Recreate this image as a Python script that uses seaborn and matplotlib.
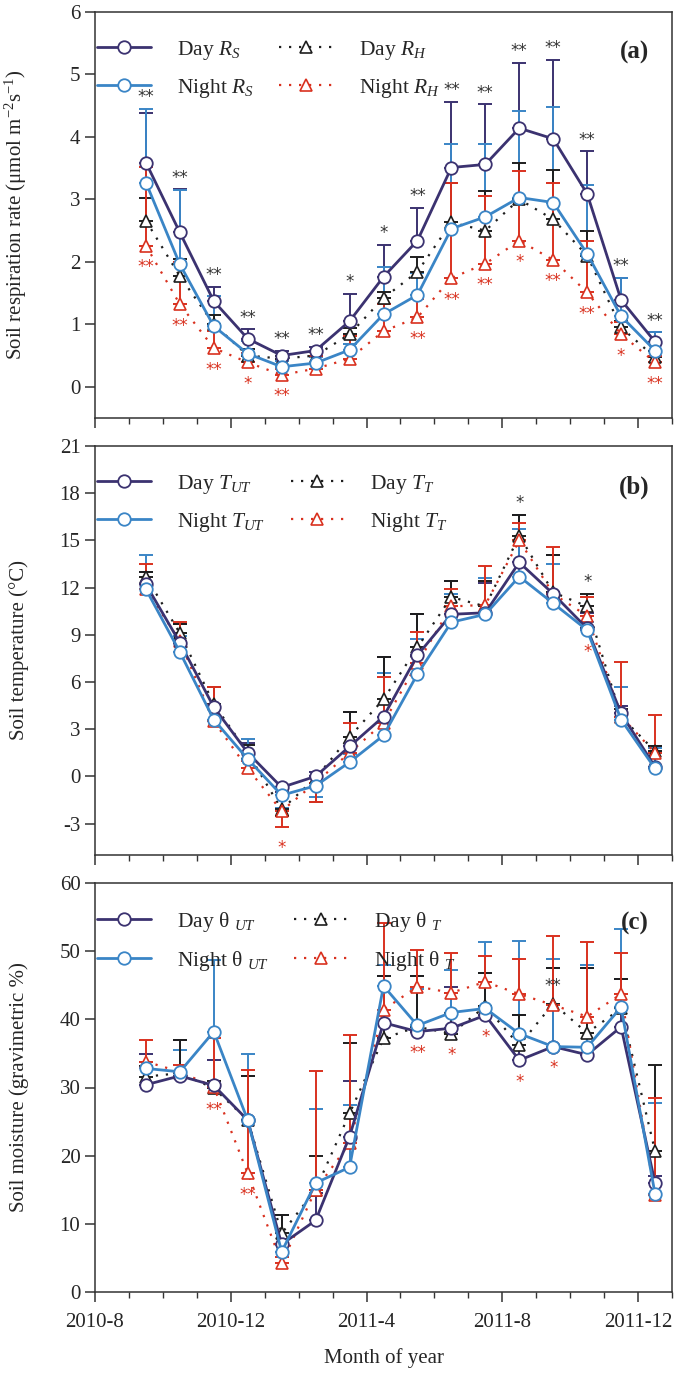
import numpy as np
import pandas as pd
import matplotlib
matplotlib.use("Agg")
import matplotlib.pyplot as plt
from matplotlib.ticker import MultipleLocator, FixedLocator
import seaborn as sns

# ---------------- data ----------------
months = ["2010-09", "2010-10", "2010-11", "2010-12", "2011-01", "2011-02", "2011-03", "2011-04",
          "2011-05", "2011-06", "2011-07", "2011-08", "2011-09", "2011-10", "2011-11", "2011-12"]
xtick_labels = ["2010-8", "2010-12", "2011-4", "2011-8", "2011-12"]

# (a) soil respiration rate
day_rs = [3.59, 2.47, 1.37, 0.77, 0.50, 0.58, 1.05, 1.76, 2.34, 3.51, 3.56, 4.14, 3.97, 3.09, 1.39, 0.72]
day_rs_err = [0.80, 0.69, 0.23, 0.15, 0.07, 0.06, 0.44, 0.51, 0.52, 1.05, 0.96, 1.05, 1.26, 0.68, 0.35, 0.15]
night_rs = [3.27, 1.96, 0.97, 0.53, 0.32, 0.38, 0.59, 1.16, 1.47, 2.53, 2.72, 3.03, 2.95, 2.13, 1.13, 0.58]
night_rs_err = [1.18, 1.19, 0.49, 0.20, 0.10, 0.10, 0.10, 0.76, 0.35, 1.36, 1.17, 1.39, 1.53, 1.10, 0.61, 0.29]
day_rh = [2.66, 1.77, 1.00, 0.50, 0.45, 0.50, 0.84, 1.42, 1.84, 2.63, 2.50, 3.00, 2.68, 2.10, 0.95, 0.47]
day_rh_err = [0.37, 0.28, 0.15, 0.10, 0.05, 0.05, 0.10, 0.10, 0.24, 0.64, 0.64, 0.59, 0.79, 0.40, 0.10, 0.10]
night_rh = [2.26, 1.32, 0.62, 0.39, 0.19, 0.29, 0.45, 0.89, 1.11, 1.74, 1.97, 2.34, 2.03, 1.51, 0.84, 0.39]
night_rh_err = [1.26, 0.68, 0.27, 0.15, 0.10, 0.21, 0.37, 0.43, 0.30, 1.52, 1.09, 1.11, 1.23, 0.83, 0.20, 0.10]
sig_a_black = ["**", "**", "**", "**", "**", "**", "*", "*", "**", "**", "**", "**", "**", "**", "**", "**"]
sig_a_red = ["**", "**", "**", "*", "**", "", "", "", "**", "**", "**", "*", "**", "**", "*", "**"]

# (b) soil temperature
day_tut = [12.2, 8.5, 4.4, 1.5, -0.7, 0.0, 1.9, 3.8, 7.7, 10.3, 10.4, 13.6, 11.6, 9.4, 4.0, 0.6]
day_tut_err = [0.8, 1.2, 1.3, 0.6, 0.3, 0.3, 2.2, 3.8, 2.6, 2.1, 1.9, 3.0, 2.5, 1.0, 0.5, 1.3]
night_tut = [11.9, 7.9, 3.6, 1.1, -1.2, -0.6, 0.9, 2.6, 6.5, 9.8, 10.3, 12.7, 11.0, 9.3, 3.6, 0.5]
night_tut_err = [2.2, 1.0, 1.0, 1.3, 0.8, 0.7, 0.5, 4.0, 2.2, 1.8, 2.3, 3.0, 2.5, 0.5, 2.1, 1.3]
day_tt = [12.7, 9.1, 4.6, 1.5, -2.1, -0.1, 2.5, 4.9, 8.2, 11.4, 10.8, 15.3, 11.7, 10.8, 3.8, 1.6]
day_tt_err = [0.3, 0.6, 1.1, 0.5, 0.4, 1.5, 1.6, 2.7, 2.1, 1.0, 1.6, 1.3, 2.4, 0.8, 0.5, 0.3]
night_tt = [11.9, 8.6, 3.5, 0.5, -2.2, -0.4, 1.5, 3.4, 7.2, 10.8, 10.9, 15.0, 11.6, 10.2, 3.8, 1.5]
night_tt_err = [1.6, 1.2, 2.2, 0.5, 1.0, 1.2, 1.9, 2.9, 2.0, 1.1, 2.5, 1.1, 3.0, 1.2, 3.5, 2.4]
sig_b_black = ["", "", "", "", "", "", "", "", "", "", "", "*", "", "*", "", ""]
sig_b_red = ["", "", "", "", "*", "", "", "", "", "", "", "", "", "*", "", ""]

# (c) soil moisture
day_mut = [30.4, 31.7, 30.3, 25.2, 7.0, 10.5, 22.8, 39.5, 38.2, 38.7, 40.6, 34.0, 36.0, 34.8, 38.9, 16.0]
day_mut_err = [4.5, 5.3, 3.8, 6.5, 4.3, 4.0, 8.1, 6.8, 8.1, 6.0, 6.2, 6.6, 11.5, 12.7, 7.0, 1.0]
night_mut = [32.8, 32.3, 38.2, 25.2, 5.9, 16.0, 18.3, 44.9, 39.1, 41.0, 41.6, 37.9, 36.0, 35.9, 41.8, 14.4]
night_mut_err = [1.0, 3.2, 10.5, 9.7, 1.0, 10.8, 9.1, 3.1, 5.4, 6.2, 9.8, 13.6, 12.9, 12.1, 11.5, 13.3]
day_mt = [31.6, 32.1, 29.9, 25.2, 8.6, 15.0, 26.2, 37.2, 38.9, 37.9, 41.9, 36.2, 42.3, 38.0, 41.6, 20.7]
day_mt_err = [1.5, 4.9, 1.0, 6.5, 2.7, 5.0, 10.4, 9.1, 7.4, 3.0, 4.9, 4.4, 5.2, 9.5, 4.3, 12.6]
night_mt = [33.8, 32.3, 30.1, 17.4, 4.2, 15.0, 21.8, 41.4, 44.8, 43.9, 45.5, 43.7, 42.1, 40.4, 43.7, 14.2]
night_mt_err = [3.2, 1.0, 7.1, 15.1, 1.0, 17.4, 15.9, 12.7, 5.4, 5.9, 3.8, 5.1, 10.1, 11.0, 6.1, 14.2]
sig_c_black = ["", "", "", "", "", "", "", "", "", "", "", "", "**", "", "", ""]
sig_c_red = ["", "", "**", "**", "", "", "", "", "**", "*", "*", "*", "*", "", "", ""]

# ---------------- style ----------------
sns.set_theme(style="ticks")
plt.rcParams["font.family"] = ["Liberation Serif", "DejaVu Serif"]
plt.rcParams["mathtext.fontset"] = "custom"
plt.rcParams["mathtext.rm"] = "Liberation Serif"
plt.rcParams["mathtext.it"] = "Liberation Serif:italic"
plt.rcParams["mathtext.bf"] = "Liberation Serif:bold"
plt.rcParams["axes.unicode_minus"] = False

C_DAY = "#3b3270"
C_NIGHT = "#3a85c6"
C_BLK = "#1e1e1e"
C_RED = "#d9311f"

base = pd.Period("2010-08", freq="M")
xpos = np.array([(pd.Period(m, freq="M") - base).n + 0.5 for m in months])

fig = plt.figure(figsize=(6.75, 13.79), dpi=100)
L, R = 95 / 675, 672 / 675
H = 1379
boxes = [(12, 418), (446, 855), (883, 1292)]
axes = []
for top, bot in boxes:
    axes.append(fig.add_axes([L, 1 - bot / H, R - L, (bot - top) / H]))


def draw_panel(ax, series, ylim, yticks, ylabel, tag, away_from_zero,
               sig_black, sig_red, black_mode, red_mode):
    df_list = []
    for name, vals, errs, color, kind in series:
        vals = np.asarray(vals, float)
        errs = np.asarray(errs, float)
        if away_from_zero:
            lo = np.where(vals < 0, errs, 0)
            hi = np.where(vals < 0, 0, errs)
        else:
            lo = np.zeros_like(errs)
            hi = errs
        ax.errorbar(xpos, vals, yerr=[lo, hi], fmt="none", ecolor=color,
                    elinewidth=1.4, capsize=5, capthick=1.4, zorder=2)
        df = pd.DataFrame({"x": xpos, "y": vals})
        if kind == "solid":
            sns.lineplot(data=df, x="x", y="y", ax=ax, color=color, marker="o",
                         markersize=9, markerfacecolor="white", markeredgecolor=color,
                         markeredgewidth=1.3, linewidth=2.0, label=name, zorder=4,
                         estimator=None, sort=False)
        else:
            sns.lineplot(data=df, x="x", y="y", ax=ax, color=color, marker="^",
                         markersize=9, markerfacecolor="white", markeredgecolor=color,
                         markeredgewidth=1.2, linewidth=1.6, linestyle=(0, (1, 3.5)),
                         label=name, zorder=3, estimator=None, sort=False)
        df_list.append((vals, lo, hi))
    vals_all = np.array([d[0] for d in df_list])
    tops = np.array([d[0] + d[2] for d in df_list])
    bots = np.array([d[0] - d[1] for d in df_list])
    for i, (sb, sr) in enumerate(zip(sig_black, sig_red)):
        if sb:
            yb = tops[:, i].max() if black_mode == "cap" else vals_all[:, i].max()
            ax.annotate(sb, (xpos[i], yb), xytext=(0, 2 if black_mode == "cap" else 6),
                        textcoords="offset points", ha="center", va="bottom",
                        color="#333333", fontsize=12, family="DejaVu Sans", zorder=6)
        if sr:
            yr = bots[:, i].min() if red_mode == "cap" else vals_all[:, i].min()
            ax.annotate(sr, (xpos[i], yr), xytext=(0, -9),
                        textcoords="offset points", ha="center", va="top",
                        color=C_RED, fontsize=12, family="DejaVu Sans", zorder=6)

    ax.set_xlim(0, 17)
    ax.set_ylim(*ylim)
    ax.set_yticks(yticks)
    ax.xaxis.set_major_locator(FixedLocator([0, 4, 8, 12, 16]))
    ax.xaxis.set_minor_locator(MultipleLocator(1))
    ax.tick_params(axis="both", which="major", direction="out", length=7, width=1.1,
                   labelsize=15, color="#333333")
    ax.tick_params(axis="x", which="minor", direction="out", length=4, width=1.0,
                   color="#333333")
    for sp in ax.spines.values():
        sp.set_color("#333333")
        sp.set_linewidth(1.1)
    ax.set_ylabel(ylabel, fontsize=15, labelpad=6)
    ax.set_xlabel("")
    ax.text(0.935, 0.9, tag, transform=ax.transAxes, fontsize=18,
            fontweight="bold", ha="center", va="center")
    ax.legend(ncol=2, loc="upper left", bbox_to_anchor=(0.0, 0.94), frameon=False,
              fontsize=15.5, handlelength=2.5, handletextpad=1.2, columnspacing=1.2,
              labelspacing=0.7, borderaxespad=0.0, borderpad=0.1, numpoints=1)


draw_panel(axes[0], [
    ("Day $R_S$", day_rs, day_rs_err, C_DAY, "solid"),
    ("Night $R_S$", night_rs, night_rs_err, C_NIGHT, "solid"),
    ("Day $R_H$", day_rh, day_rh_err, C_BLK, "dot"),
    ("Night $R_H$", night_rh, night_rh_err, C_RED, "dot"),
], (-0.5, 6), np.arange(0, 7, 1), "Soil respiration rate (μmol m$^{-2}$s$^{-1}$)", "(a)",
    False, sig_a_black, sig_a_red, "cap", "val")

draw_panel(axes[1], [
    ("Day $T_{UT}$", day_tut, day_tut_err, C_DAY, "solid"),
    ("Night $T_{UT}$", night_tut, night_tut_err, C_NIGHT, "solid"),
    ("Day $T_T$", day_tt, day_tt_err, C_BLK, "dot"),
    ("Night $T_T$", night_tt, night_tt_err, C_RED, "dot"),
], (-5, 21), np.arange(-3, 22, 3), "Soil temperature (°C)", "(b)",
    True, sig_b_black, sig_b_red, "cap", "cap")

draw_panel(axes[2], [
    ("Day θ $_{UT}$", day_mut, day_mut_err, C_DAY, "solid"),
    ("Night θ $_{UT}$", night_mut, night_mut_err, C_NIGHT, "solid"),
    ("Day θ $_{T}$", day_mt, day_mt_err, C_BLK, "dot"),
    ("Night θ $_{T}$", night_mt, night_mt_err, C_RED, "dot"),
], (0, 60), np.arange(0, 61, 10), "Soil moisture (gravimetric %)", "(c)",
    False, sig_c_black, sig_c_red, "val", "val")

for ax in axes[:2]:
    ax.set_xticklabels([])
axes[2].set_xticklabels(xtick_labels)
axes[2].tick_params(axis="x", pad=8)
axes[2].set_xlabel("Month of year", fontsize=15, labelpad=12)

for ax in axes:
    ax.yaxis.set_label_coords(-0.115, 0.5)

fig.savefig("out.png", dpi=100)
